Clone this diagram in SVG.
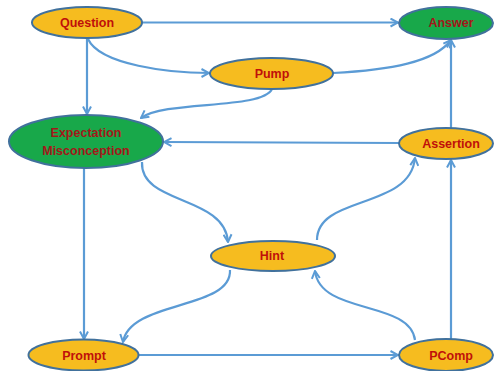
<svg xmlns="http://www.w3.org/2000/svg" width="495" height="371" viewBox="0 0 495 371">
<style>
.e{stroke:#41719C;stroke-width:2}
.o{fill:#F6BC1F}
.g{fill:#18A84A}
.c{fill:none;stroke:#5B9BD5;stroke-width:2.2;marker-end:url(#a)}
text{font-family:"Liberation Sans",Arial,sans-serif;font-weight:bold;font-size:12.5px;text-anchor:middle;dominant-baseline:central}
.to{fill:#C0100A}
.tg{fill:#A3171A}
</style>
<defs>
<marker id="a" viewBox="0 0 10 10" markerUnits="userSpaceOnUse" markerWidth="10" markerHeight="10" refX="9" refY="5" orient="auto">
<path d="M1.5,1 L9,5 L1.5,9" fill="none" stroke="#5B9BD5" stroke-width="2"/>
</marker>
</defs>
<rect width="495" height="371" fill="#fff"/>
<g id="connectors">
<path class="c" d="M142,22.5 L398,22.5"/>
<path class="c" d="M88,39 C100,65 170,73 209,73"/>
<path class="c" d="M87,38 L87,114"/>
<path class="c" d="M333,73 C390,70 435,62 451,40"/>
<path class="c" d="M272,89 C262,110 165,100 141,118"/>
<path class="c" d="M399,143 L164,142"/>
<path class="c" d="M451,128 L451,40"/>
<path class="c" d="M142,162 C140,205 225,195 228,242"/>
<path class="c" d="M317,240 C317,195 410,210 415,158"/>
<path class="c" d="M230,270 C232,310 130,300 123,342"/>
<path class="c" d="M84,168 L84,339"/>
<path class="c" d="M138,355 L398,355"/>
<path class="c" d="M415,340 C410,300 320,315 315,271"/>
<path class="c" d="M451,339 L451,160"/>
</g>
<g id="question"><ellipse class="e o" cx="87" cy="22.5" rx="55" ry="15.5"/><text class="to" x="87" y="22.5">Question</text></g>
<g id="answer"><ellipse class="e g" cx="446" cy="23" rx="47" ry="16"/><text class="tg" x="451" y="23">Answer</text></g>
<g id="pump"><ellipse class="e o" cx="271.5" cy="73.5" rx="61.5" ry="15.5"/><text class="to" x="272" y="74">Pump</text></g>
<g id="expectation"><ellipse class="e g" cx="86" cy="141.5" rx="77" ry="26.5"/><text class="tg" x="86" y="133">Expectation</text><text class="tg" x="86" y="151">Misconception</text></g>
<g id="assertion"><ellipse class="e o" cx="446" cy="143.5" rx="47" ry="15.5"/><text class="to" x="451" y="143.5">Assertion</text></g>
<g id="hint"><ellipse class="e o" cx="273" cy="256" rx="62" ry="15"/><text class="to" x="272" y="256">Hint</text></g>
<g id="prompt"><ellipse class="e o" cx="83.5" cy="355" rx="55" ry="15.5"/><text class="to" x="84" y="356">Prompt</text></g>
<g id="pcomp"><ellipse class="e o" cx="446" cy="355" rx="47" ry="16"/><text class="to" x="451" y="356">PComp</text></g>
</svg>
